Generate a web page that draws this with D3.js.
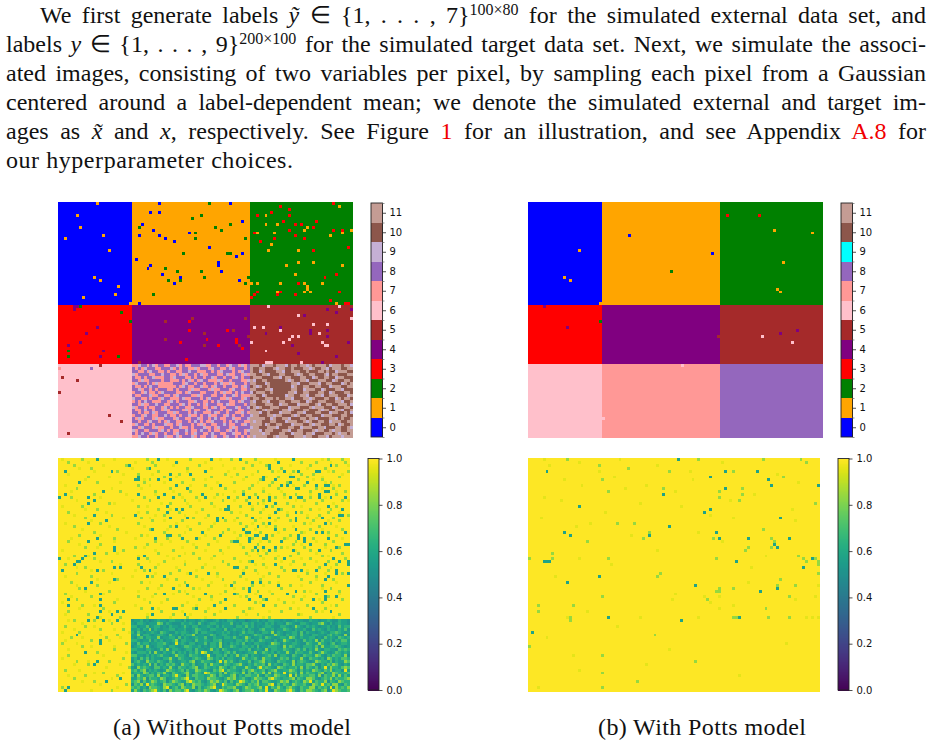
<!DOCTYPE html>
<html>
<head>
<meta charset="utf-8">
<script src="https://cdn.jsdelivr.net/npm/d3@7"></script>
<style>
html,body{margin:0;padding:0;background:#fff}
svg{display:block}
.para{font-family:"Liberation Serif",serif;font-size:24px;fill:#111}
.tick text{font-family:"DejaVu Sans",sans-serif;font-size:10px;fill:#111}
</style>
</head>
<body>
<svg id="fig" width="932" height="747"></svg>
<script>
// Segmentation label images: 100 x 80 pixels split into a 3 x 3 layout.
const gridCols = 100, gridRows = 80;
const colBreaks = [25, 65];
const rowBreaks = [35, 55];
const labelTicks = [0,1,2,3,4,5,6,7,8,9,10,11];
const confTicks = [0,0.2,0.4,0.6,0.8,1];

const paletteWithout = ["#0000ff","#ffa500","#008000","#ff0000","#800080","#a52a2a","#ffc0cb","#ff9896","#9467bd","#c5b0d5","#8c564b","#c49c94"];
const paletteWith    = ["#0000ff","#ffa500","#008000","#ff0000","#800080","#a52a2a","#ffc0cb","#ff9896","#9467bd","#00ffff","#8c564b","#c49c94"];

// Dominant label of each region, by region row then region column.
const regionsWithout = [[0,1,2],[3,4,5],[6,7,10]];
const regionsWith    = [[0,1,2],[3,4,5],[6,7,8]];

// Misassigned pixels: [label, col, row].
const flipsWithout = [
 [1,13,0],[1,6,4],[1,7,8],[1,2,12],[1,15,11],[1,17,16],[1,12,25],[1,14,26],[1,20,28],[1,19,31],[1,8,32],[1,24,34],
 [0,34,0],[0,58,0],[0,31,3],[0,34,3],[0,28,7],[0,32,9],[0,27,11],[0,34,11],[0,36,12],[0,39,13],[0,44,10],[0,62,6],[0,51,15],[0,60,18],[0,62,17],[0,26,19],[0,31,21],[0,30,22],[0,35,24],[0,41,25],[0,39,27],[0,54,20],[0,54,21],[0,55,23],[0,61,26],[0,27,34],
 [2,51,0],[2,48,4],[2,45,5],[2,27,8],[2,53,8],[2,58,7],[2,55,9],[2,46,10],[2,46,12],[2,63,12],[2,42,17],[2,57,17],[2,58,17],[2,36,22],[2,40,23],[2,48,23],[2,49,25],[2,37,26],[2,41,26],[2,64,25],[2,63,27],[2,32,31],
 [3,93,0],[3,75,1],[3,78,2],[3,72,3],[3,67,4],[3,78,4],[3,76,6],[3,87,6],[3,80,7],[3,82,7],[3,86,8],[3,78,9],[3,93,9],[3,96,9],[3,66,10],[3,80,11],[3,83,12],[3,73,12],[3,68,13],[3,98,15],[3,86,16],[3,90,25],[3,94,24],[3,81,27],[3,95,30],[3,67,30],[3,66,31],[3,75,30],[3,74,31],[3,80,31],[3,65,32],[3,92,33],[3,97,34],[3,98,34],
 [1,95,1],[1,70,4],[1,70,7],[1,74,7],[1,84,8],[1,83,9],[1,99,9],[1,67,10],[1,73,10],[1,92,11],[1,96,10],[1,72,14],[1,71,16],[1,81,16],[1,77,21],[1,81,20],[1,86,20],[1,96,21],[1,80,24],[1,65,27],[1,67,27],[1,75,27],[1,83,27],[1,89,27],[1,84,28],[1,84,29],[1,83,30],[1,85,30],[1,74,30],[1,94,34],
 [4,5,36],[4,5,35],[4,6,35],[2,7,35],[2,21,37],[2,24,40],[4,13,42],[4,9,44],[4,7,47],[4,3,48],[2,3,50],[4,15,50],[2,3,52],[4,14,52],[2,20,52],
 [5,36,40],[5,45,39],[5,63,39],[5,49,44],[5,59,43],[5,36,46],[5,49,48],[5,64,45],[5,61,48],[5,27,54],
 [3,44,40],[3,44,43],[3,57,43],[3,50,46],[3,41,47],[3,60,46],[3,60,47],[3,54,48],[3,62,49],[3,43,53],
 [4,91,36],[4,94,37],[4,99,36],[4,83,38],[4,75,42],[4,70,44],[4,85,43],[4,85,44],[4,91,43],[4,91,45],[4,79,48],[4,98,47],[4,81,51],[4,94,52],[4,89,54],
 [6,71,35],[6,95,35],[6,81,38],[6,99,39],[6,86,41],[6,91,41],[6,66,42],[6,69,42],[6,75,43],[6,88,44],[6,79,45],[6,81,45],[6,78,46],[6,76,47],[6,89,47],[6,65,47],[6,90,48],[6,91,48],[6,70,50],[6,70,54],[6,71,54],[6,72,54],[6,82,54],
 [5,14,55],[5,1,59],[5,6,60],[5,0,64],[5,17,72],[5,21,74],[5,3,78],[7,0,56],[8,11,56]
];
const flipsWith = [
 [1,17,16],[1,12,25],[1,14,26],[1,24,34],[0,34,11],[0,62,17],[2,48,23],[3,67,4],[3,78,4],
 [1,83,9],[1,96,10],[1,86,20],[1,84,29],[1,85,30],[4,5,35],[4,13,42],[2,24,40],[5,64,45],
 [6,79,45],[4,85,44],[4,91,43],[6,89,47],[6,52,55],[6,25,73]
];

// Mixed pixels in the two lower regions of the first image, one string per row.
// p: 8, s: 7, l: 9 in the middle block; b: 10, t: 11, l: 9 in the right block.
const mixedCenter = [
"sslppsplsppsspplspsspppllssppsppslppslsp",
"pspslpppssppplspsppsslspppslppssplspppsp",
"ppsspslppsspsppsspplppsssppspslpppspslpp",
"lsppppsspplppsspslsppsplsspppssplssppsls",
"psspspplsssppslpppsspsppspplsppsppslpspp",
"ppslssppppsppssspsplspslppssslsppspppssl",
"slpppspslssssspppslppsppspppsplsslspppsp",
"psspsplppsssssspslpsspplsspslppsppsspslp",
"pplsppspspppsspspppslsspppslsspppslppssp",
"sppslpsspslppppsspslpppsspppspslsspsplpp",
"pssppplssppsspslppppsslspppssppspplspsss",
"lppsspsppslppsssplsspppspslpppsslspppslp",
"spsplppsssppslpspppsslppsspsplpppsspslpp",
"ppslsspplppsspppslpsppspslpppssplsspppsp",
"lsppspssppslpspsppsslpppsspslpssppplsppl",
"pssplppsppslsppppslspssppslpppspslppsspp",
"ppspssplspppsslspppsplppsssplsppsppsslps",
"sppslppsspplpsspspplsspspplssppslpsppspp",
"pslspppslsspppslppsspplsppsplpsspplssppl",
"ppsppslppspslppssppsplpspsslpppspsplppss",
"slppsspsppplsspslpppspslsppsspplpssppslp",
"ppslpppslssppspplsspsppplsspslpppslspppp",
"lsppsspppslpspsspplpssplppspssppslpsppsl",
"psplppslsppsppslppspslppssplppsspplsspsp",
"sslppsppspplssplsppplspsspplsppslppspsps"
];
const mixedRight = [
"tttbltttbtttlbttbttltbttttbltttbttl",
"tbbttbbbtlttbbtbbbttltbbttlbtttbbtt",
"tbbltbbbbttlbbtttbbtbbbttbtbbltttbb",
"ttbbttlbbbttbbbtltbbttbbbtlbttbbbtt",
"btttbbbbttlbttbbbttbbltbbttbblttbbb",
"tlbbttbbbbbbtltbbttlbbbtttbbltbbttb",
"ttbbbltbbbbbbbttlbbbtttlbbttbbbltbt",
"btltbbtbbbbbbbltbbttbbttbbbltttbbtt",
"ttbbbttlbbbbbbttbbltttbbltbbbttlbbb",
"lbtttbbtbbbbbttlbbttbbbttbbltbbbttb",
"ttbbltbbbbbblttbbttlbbttlbbtttbbblt",
"bttbbtttbtbbttlbbbttltbbbttbbltbttb",
"tlbbttlbbbttbbtttbbltbbtttbbbttlbbt",
"ttbbbtttbblttbbbltttbbtlbbttbbtttbl",
"btltbbbtttbbbltttbbbtltttbbbltbbttb",
"ttbbtlttbbbttltbbbttbbbtlttbbttlbbt",
"tttlbbtbbbltttbbttlbbbttbbblttbbtbl",
"lttbbbttlttbbbtltbbttbbbltttbbbttbb",
"tttttbbltbbttlbbbttbttlbbbbttlbtbbt",
"tlttbbbttbbbltttbbtltbbttbbltttbbtt",
"ttttbltbbttbbbltttbbtlttbbbttbltbbt",
"lttbbbtttlbbbttbbltttbbttlbbbttbbtl",
"tttlbtttbbbttlbbttbbbtlttbbtlttbbtt",
"ttttlttbbbttbbltttbttlbbbtttbtlttbt",
"tlttttbbtltttbbtttlttbbtttlbtttlttt"
];

// Confidence of the first image: 1 everywhere except the cells listed per row.
const confDarkWithout = [
[13,34,52,62,80],[40,75],[93,24,72],[31,72],[2,18,50,82,88,89,77],[38,45],[79,27,80,70],[26,27,34,38,74,70],[7,85,79],[40,76,78,55,88,91,92],
[44,82,81],[15,91,92],[2,36,27,49,63,89],[0,10,34,39,50,58,65,68,72,79,82,83,93,98,89],[12,72],[10,74,65],[37,58,71,92],[40,42,57,58,75,97],[37,81,74],[12,26,96,97],
[38,44,54,56,81,72,66,90],[16,54,81],[10,91,72],[40,68],[32,63,74,81],[49,64,65,88,90,98],[37,38,55,68,71,67,82],[82,84,13,33,42,47,65,71,92,70],[60,61,65,10,76,84],[86,99,98],
[70,67,74,19,95],[72,68,19,89,80],[12],[9,29],[8,0,27,77,94],[7,6,66,96,99],[5,74,91,99],[19,21,28,60,61],[1,13,31,80,81,83,88,95],[51,63,95,99,45],
[30,36,92],[91,19],[11,66,69],[99,75,44,59],[39,9,65],[81,91,65],[14,36,60,78,50],[95,91,69],[91,65,3,14,71,87,57],[],
[3,14,53,70],[39,57,32,47,87,40],[20,22,93,14],[18,32,43],[13],[15,20,10],[],[],[],[],
[6],[],[14],[14],[],[],[9],[],[],[13],[12],[],[],[],[],[21],[16],[],[3],[2]
];
const confMidWithout = [
[8,30,45,59,67,92,97],[3,32,64,83,88,98],[5,23,33,48,66,71,86,95],[11,30,44,63,76,91],[20,34,68,73,80,94,99],[27,41,57,61,83,87],[10,36,52,64,75,85,96],[31,46,69,82,90],[13,29,42,60,73,78,93],[27,50,66,72,84,96],
[6,38,57,65,75,88,94],[21,33,45,63,70,86,98],[12,41,54,67,77,81,95],[4,29,47,61,74,86],[31,43,56,64,70,84,90,97],[17,38,52,68,78,88],[8,27,45,62,73,80,95],[13,34,49,66,76,86,93],[3,30,41,59,69,83,92],[18,36,51,64,78,89,99],
[9,28,46,61,75,85,94],[32,42,57,67,79,87,96],[14,27,48,62,70,84,93],[5,38,52,64,74,89],[20,31,45,58,77,86,97],[12,36,56,69,83,92],[7,28,41,62,73,79,95],[19,37,53,66,77,87],[3,33,44,59,72,81,94],[14,30,51,68,80,91],
[9,26,47,63,76,84,96],[22,39,55,66,74,86,93],[16,34,46,64,71,82,97],[5,41,53,69,79,90],[12,30,48,60,74,86,98],[18,36,56,65,80,92],[2,27,43,58,70,84,95],[9,33,49,64,76,89],[15,29,41,67,77,92],[6,38,54,72,85,97],
[11,32,47,62,75,88],[20,40,56,69,83,94],[4,28,43,60,72,86],[13,35,51,66,79,90],[7,30,46,63,76,93],[17,41,57,68,84,96],[2,33,44,61,73,88],[11,27,52,64,80,92],[6,37,48,70,83,97],[19,31,55,67,77,90],
[8,42,60,74,85,95],[15,28,46,65,79,91],[3,35,50,63,76,88],[10,39,53,68,82,96],[21,30,44,61,72,86],[5,12],[18],[2,9],[14,22],[7],
[20],[4,16],[11],[1,23],[8],[19],[13],[3],[22],[6,17],[10],[24],[2],[15],[9,20],[5],[12],[23],[1],[18]
];
const confFaintWithout = [
[1,19,37,55,74,90],[10,26,50,69,93],[15,39,56,79,99],[7,25,52,60,85],[12,44,58,75,92],[3,22,32,66,79,97],[17,40,59,71,90],[9,29,50,63,87],[21,36,54,68,91],[2,31,45,80,94],
[18,28,52,70,90],[4,39,60,76,95],[23,33,56,72,86],[14,42,53,77,91],[6,25,48,60,81,99],[19,35,44,70,94],[1,30,53,66,83],[9,38,55,70,89],[16,27,47,62,78,96],[5,33,43,72,85],
[22,31,50,69,88],[11,36,60,74,92],[2,40,53,66,86],[17,29,44,71,80,95],[8,37,51,67,90],[23,43,60,75,84],[14,30,50,64,92],[4,26,48,61,78,97],[19,38,54,69,88],[7,35,46,62,83],
[13,29,42,58,78,91],[1,33,50,70,81],[20,43,56,68,88],[10,27,37,65,75,92],[3,39,52,70,83],[14,31,43,62,76,88],[21,34,50,67,79],[6,40,53,71,93],[11,26,47,63,85],[18,33,44,68,91],
[2,25,54,70,82],[13,37,49,64,88],[17,31,52,75,95],[6,41,57,70,83],[22,34,48,60,90],[9,27,43,72,86],[15,39,55,67,96],[4,32,46,62,84],[20,29,52,75,89],[1,35,44,69,80],
[12,26,47,60,93],[7,34,51,66,82],[17,42,55,72,90],[2,30,45,64,83],[14,38,50,70,94],[3,17],[8,22],[12],[5,19],[24,1],
[14],[8,21],[2,17],[6],[19,11],[3],[9,23],[15],[1],[10],[21,5],[16],[7],[12,22],[3],[18],[8],[14],[20],[11]
];
const confDarkWith = [
[51],[],[],[],[6,67,78],[],[62],[82],[],[83,99],
[67],[],[46],[],[],[],[17],[62],[60],[],
[86],[],[],[48],[],[12,64],[14,41],[65,75,89],[],[84],
[85],[],[],[],[97],[5,6,7,71],[],[94],[],[],
[24],[],[13],[57],[85],[79],[],[],[],[],
[],[],[],[],[27,72],[52],[],[],[],[1]
];
const confMidWith = [
[13,58,80,93],[95],[24],[34],[48,70],[],[87],[25],[],[],
[46,73,67],[27,65],[73],[65],[72],[98],[],[],[],[],
[],[],[30,36],[],[80],[41],[],[39,63,83],[20,84],[],
[75,83],[74],[8],[92],[0,8,27,64,94,98],[95,99],[99],[],[],[45,99],
[44],[86],[],[85,91],[65,70],[64,65],[],[25,89],[61],[],
[15,3],[81],[3],[],[70,71,82,89,14],[14],[],[],[],[],
[43],[],[],[],[0],[],[],[25],[],[57],
[],[],[],[25],[],[],[37],[],[25],[]
];
const confFaintWith = [
[5,31],[17,66],[7,44],[],[24,55],[85],[29],[12,56],[92],[18,40],
[33],[50],[77],[5],[11,69],[38],[52],[90],[26],[62],
[4,70],[91],[21],[16],[],[58],[35],[],[66],[],
[],[44],[],[81],[17],[],[28],[76],[],[],
[9],[],[75],[99],[],[],[50],[60,98,65],[49,91],[62],
[70],[65],[20],[],[13,38,58,95,97,99],[],[],[30],[],[],
[],[6],[],[88],[],[48],[],[15],[],[],
[40],[],[17],[],[72],[],[],[],[3],[]
];
// Lower middle and lower right regions of the first image are far less certain, one string per row.
const confLowZone = [
"455645345655466554645545654456454665455345564546655454456554465545565446554",
"546654555874654446556547545665455574546656455465645547654466545578546456554",
"664557456645465545754664556546465554665756454566544665458654656545564547566",
"556465846545566455644576554665547456556465446755645576546556447565465546574",
"647545565476544656654574665545565645457566454665846545566474655456546676545",
"558466545665475546566845545764566545465545766544586546566475546655467565484",
"546746655845566474654565574465546657545864556476545665875465566454756547656",
"665455746564556846655475565466745554665756457655464586546547565847556465775",
"547566455667545956546645574665845465657454665545876465566544765586546745665",
"456748545665466545776556454665845576546656474556665485765546665748556676545",
"665546654575846654566475545856476545566574565484665576546757465854665547676",
"546665748546557465646575985466546757454566845765646558547665575468654576565",
"775546465675545866547665459546657465856746554567584665476547665875465766584",
"564757465546685476554676548756574665458656754866545767465585476656487565776",
"467548665765475456657845766546958675465574667856547665584676545876657465587",
"756565847465767548665745575866547656785465766748565476585665778546576875465",
"548676547756585476656784576565876467555865479676548765667584765746958665787",
"675784656545876567475587665476895766547578656746785566876475658765768566495",
"566587465768547656785476598665748567658475766858476595767485766578465876667",
"748656775846657965485776656874765578465776685476587665948576677584766858575",
"557684766587456767895476658776546878567546877658976566784765887546768576678",
"678475687567468765589767546878657475698657684776556878467658795766847658766",
"476859676548776578465877656784597665876476785668947576587667548769675885476",
"767564877658946758766847567895476778546876678594768657865476688576759486768",
"586476789657486776895467687546987657846778657695487668975476887657846987667"
];
const confLowKey = {"3":0.46,"4":0.52,"5":0.57,"6":0.64,"7":0.72,"8":0.83,"9":0.96};
const confLevels = {dark:0.58, mid:0.84, faint:0.96};

// Paragraph and captions.
const paragraph = [
 [[0,"We first generate labels "],[1,"\u1ef9"],[0," \u2208 {1, . . . , 7}"],[2,"100\u00d780"],[0," for the simulated external data set, and"]],
 [[0,"labels "],[1,"y"],[0," \u2208 {1, . . . , 9}"],[2,"200\u00d7100"],[0," for the simulated target data set. Next, we simulate the associ-"]],
 [[0,"ated images, consisting of two variables per pixel, by sampling each pixel from a Gaussian"]],
 [[0,"centered around a label-dependent mean; we denote the simulated external and target im-"]],
 [[0,"ages as "],[1,"x\u0303"],[0," and "],[1,"x"],[0,", respectively. See Figure "],[3,"1"],[0," for an illustration, and see Appendix "],[3,"A.8"],[0," for"]],
 [[0,"our hyperparameter choices."]]
];
const captions = ["(a) Without Potts model","(b) With Potts model"];

const svg = d3.select("#fig");

// ----- helpers -----
function regionIndex(v, breaks){ return v < breaks[0] ? 0 : v < breaks[1] ? 1 : 2; }

function labelGrid(regions, flips, mixed){
  const g = d3.range(gridRows).map(r => d3.range(gridCols).map(c => regions[regionIndex(r,rowBreaks)][regionIndex(c,colBreaks)]));
  if (mixed){
    const key = {p:8, s:7, l:9, b:10, t:11};
    mixedCenter.forEach((row,i) => [...row].forEach((ch,j) => { if (j < 40) g[rowBreaks[1]+i][colBreaks[0]+j] = key[ch]; }));
    mixedRight.forEach((row,i) => [...row].forEach((ch,j) => { if (j < 35) g[rowBreaks[1]+i][colBreaks[1]+j] = key[ch]; }));
  }
  flips.forEach(([l,c,r]) => { g[r][c] = l; });
  return g;
}

function confGrid(dark, mid, faint, low){
  const g = d3.range(gridRows).map(() => d3.range(gridCols).map(() => 1));
  [[faint,confLevels.faint],[mid,confLevels.mid],[dark,confLevels.dark]].forEach(([rows,v]) =>
    rows.forEach((cols,r) => cols.forEach(c => { g[r][c] = v; })));
  if (low) low.forEach((row,i) => [...row].forEach((ch,j) => {
    if (j < 75) g[rowBreaks[1]+i][colBreaks[0]+j] = confLowKey[ch];
  }));
  return g;
}

function drawImage(grid, colorOf, x0, x1, y0, y1){
  const x = d3.scaleBand().domain(d3.range(gridCols)).range([x0,x1]);
  const y = d3.scaleBand().domain(d3.range(gridRows)).range([y0,y1]);
  const cells = grid.flatMap((row,r) => row.map((v,c) => ({v,c,r})));
  svg.append("g").attr("shape-rendering","crispEdges").selectAll("rect").data(cells).join("rect")
    .attr("x",d => x(d.c)).attr("y",d => y(d.r))
    .attr("width",x.bandwidth()).attr("height",y.bandwidth())
    .attr("fill",d => colorOf(d.v));
}

function styleAxis(g){
  g.select(".domain").remove();
  g.selectAll(".tick line").attr("stroke","#222").attr("stroke-width",0.8);
}

function labelColorbar(palette, x0, x1, y0, y1){
  const y = d3.scaleLinear().domain([-0.5,11.5]).range([y1,y0]);
  svg.append("g").attr("shape-rendering","crispEdges").selectAll("rect").data(labelTicks).join("rect")
    .attr("x",x0).attr("width",x1-x0)
    .attr("y",d => y(d+0.5)).attr("height",d => y(d-0.5)-y(d+0.5))
    .attr("fill",d => palette[d]);
  svg.append("rect").attr("x",x0).attr("y",y0).attr("width",x1-x0).attr("height",y1-y0)
    .attr("fill","none").attr("stroke","#222").attr("stroke-width",0.9);
  const major = d3.axisRight(y).tickValues(labelTicks).tickSize(3.5).tickPadding(3.5).tickFormat(d3.format("d"));
  svg.append("g").attr("transform",`translate(${x1},0)`).call(major).call(styleAxis);
  const minor = d3.axisRight(y).tickValues(labelTicks.concat(-1).map(d => d+0.5)).tickSize(2).tickFormat("");
  svg.append("g").attr("transform",`translate(${x1},0)`).call(minor).call(styleAxis)
    .selectAll(".tick line").attr("stroke","#777");
}

function confColorbar(x0, x1, y0, y1){
  const y = d3.scaleLinear().domain([0,1]).range([y1,y0]);
  const steps = d3.range(256);
  const band = d3.scaleBand().domain(steps).range([y1,y0]);
  svg.append("g").attr("shape-rendering","crispEdges").selectAll("rect").data(steps).join("rect")
    .attr("x",x0).attr("width",x1-x0).attr("y",d => band(d)).attr("height",band.bandwidth()+0.5)
    .attr("fill",d => d3.interpolateViridis(d/255));
  svg.append("rect").attr("x",x0).attr("y",y0).attr("width",x1-x0).attr("height",y1-y0)
    .attr("fill","none").attr("stroke","#222").attr("stroke-width",0.9);
  const axis = d3.axisRight(y).tickValues(confTicks).tickSize(3.5).tickPadding(4).tickFormat(d3.format(".1f"));
  svg.append("g").attr("transform",`translate(${x1},0)`).call(axis).call(styleAxis);
}

// ----- figure panels -----
const toLabelColor = p => v => p[v];
const viridis = d3.scaleSequential(d3.interpolateViridis).domain([0,1]);

drawImage(labelGrid(regionsWithout,flipsWithout,true), toLabelColor(paletteWithout), 58,353,202,438);
drawImage(labelGrid(regionsWith,flipsWith,false), toLabelColor(paletteWith), 528,823,202,438);
labelColorbar(paletteWithout, 371,382.5,203,437);
labelColorbar(paletteWith, 841,852.5,203,437);

drawImage(confGrid(confDarkWithout,confMidWithout,confFaintWithout,confLowZone), viridis, 58,350,458,692);
drawImage(confGrid(confDarkWith,confMidWith,confFaintWith,null), viridis, 528,820,458,692);
confColorbar(368,379,458.5,690);
confColorbar(838,849,458.5,690);

// ----- running text, justified to the column -----
const leftEdge = 6, rightEdge = 926, firstIndent = 40, lineTop = 23, lineStep = 29, lastLineWidth = 287;
paragraph.forEach((segments,i) => {
  const startX = i === 0 ? firstIndent : leftEdge;
  const t = svg.append("text").attr("class","para").attr("x",startX).attr("y",lineTop+i*lineStep);
  segments.forEach(([kind,str],k) => {
    const prevSup = k > 0 && segments[k-1][0] === 2;
    const s = t.append("tspan").text(str).attr("xml:space","preserve");
    if (kind === 1) s.attr("font-style","italic");
    if (kind === 3) s.attr("fill","#f00000");
    if (kind === 2) s.attr("dy",-8).attr("font-size",16);
    else if (prevSup) s.attr("dy",8);
  });
  if (i < paragraph.length-1){
    const natural = t.node().getComputedTextLength();
    const gaps = segments.map(s => s[1]).join("").split(" ").length-1;
    t.style("word-spacing",((rightEdge-startX-natural)/gaps)+"px");
  } else {
    t.attr("textLength",lastLineWidth);
  }
});

svg.selectAll("text.cap").data(captions).join("text").attr("class","para cap")
  .attr("x",(d,i) => [113,598][i]).attr("y",735).text(d => d)
  .attr("textLength",(d,i) => [238,208][i]);
</script>
</body>
</html>
